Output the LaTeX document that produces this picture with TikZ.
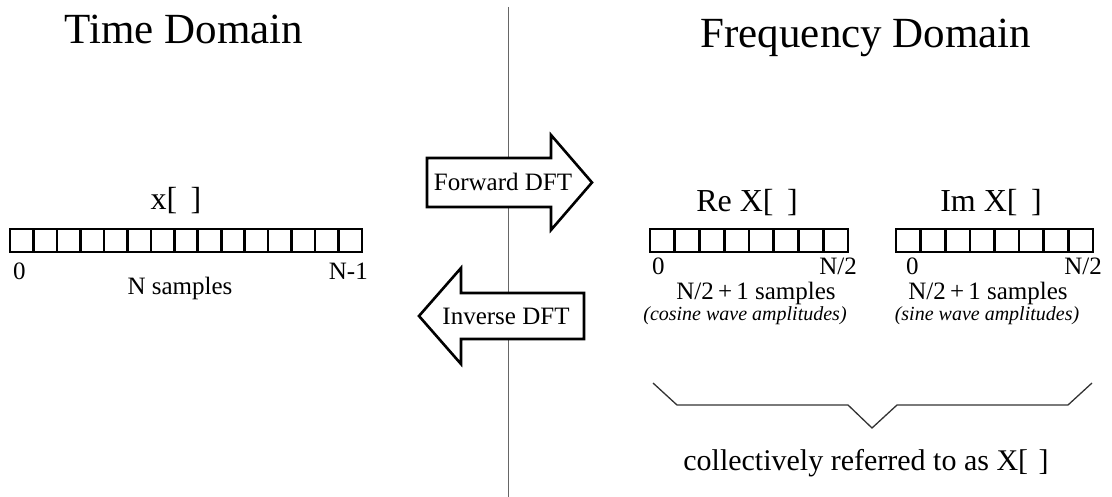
\documentclass[tikz,border=0pt]{standalone}
\usepackage{fontspec}
\setmainfont{Liberation Serif}
\begin{document}
\begin{tikzpicture}[x=1pt,y=-1pt,
  txt/.style={inner sep=0pt, anchor=base},
  title/.style={txt, font=\fontsize{43}{50}\selectfont},
  arrname/.style={txt, font=\fontsize{32}{38}\selectfont},
  small/.style={txt, font=\fontsize{25}{30}\selectfont},
  note/.style={txt, font=\fontsize{20}{24}\selectfont\itshape},
  cellgrid/.style={line width=2.6pt, line join=miter},
  bigarrow/.style={line width=2.6pt, fill=white, line join=miter},
  divider/.style={line width=1pt, draw=black!60},
  bracestyle/.style={line width=1.3pt, draw=black!80}]
\useasboundingbox (0,0) rectangle (1112,497);

% divider
\coordinate (dtop) at (508,7);
\coordinate (dbot) at (508,497);
\draw[divider] (dtop) -- (dbot);

% titles
\node[title] (tdom) at (184,44) {Time Domain};
\node[title] (fdom) at (866,48) {Frequency Domain};

% time array
\node[arrname] (xlab) at (176,210) {x[\hspace{0.42em}]};
\draw[cellgrid] (10,229) rectangle (362,252);
\foreach \i in {1,...,14} \draw[cellgrid] ({10+\i*352/15},229) -- ++(0,23);
\node[small, anchor=base west] (t0) at (13,280) {0};
\node[small, anchor=base east] (tn) at (368,280) {N-1};
\node[small] (tns) at (180,295) {N samples};

% Re array
\node[arrname] (relab) at (747,212) {Re X[\hspace{0.42em}]};
\draw[cellgrid] (650,229) rectangle (848,252);
\foreach \i in {1,...,7} \draw[cellgrid] ({650+\i*198/8},229) -- ++(0,23);
\node[small, anchor=base west] (r0) at (652,275) {0};
\node[small, anchor=base east] (rn) at (857,275) {N/2};
\node[small] (rns) at (756,300) {N/2\,+\,1 samples};
\node[note] (rnote) at (745,321) {(cosine wave amplitudes)};

% Im array
\node[arrname] (imlab) at (991,212) {Im X[\hspace{0.42em}]};
\draw[cellgrid] (896,229) rectangle (1093,252);
\foreach \i in {1,...,7} \draw[cellgrid] ({896+\i*197/8},229) -- ++(0,23);
\node[small, anchor=base west] (i0) at (906,275) {0};
\node[small, anchor=base east] (in) at (1102,275) {N/2};
\node[small] (ins) at (988,300) {N/2\,+\,1 samples};
\node[note] (inote) at (987,321) {(sine wave amplitudes)};

% forward arrow
\draw[bigarrow] (427,158) -- (551,158) -- (551,135) -- (592,182.5) -- (551,230) -- (551,207) -- (427,207) -- cycle;
\node[small] (fwd) at (503,191) {Forward DFT};

% inverse arrow
\draw[bigarrow] (419,316) -- (461,268) -- (461,293) -- (584,293) -- (584,339) -- (461,339) -- (461,364) -- cycle;
\node[small] (inv) at (506,325) {Inverse DFT};

% brace
\draw[bracestyle] (653,383) -- (677,405) -- (848,405) -- (872,428) -- (897,405) -- (1068,405) -- (1092,383);
\node[txt, font=\fontsize{30}{36}\selectfont] (coll) at (866,470) {collectively referred to as X[\hspace{0.35em}]};
\end{tikzpicture}
\end{document}
